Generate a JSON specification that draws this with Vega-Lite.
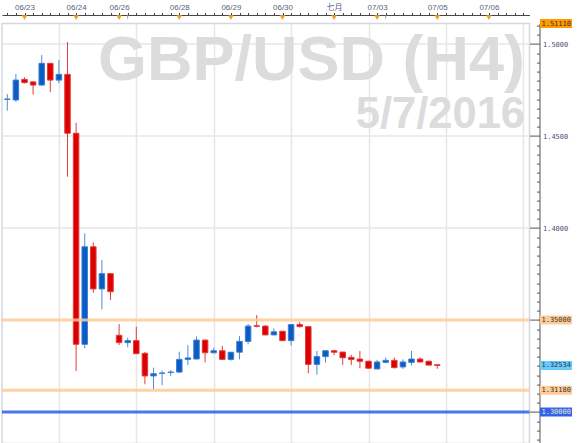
{
  "$schema": "https://vega.github.io/schema/vega-lite/v6.json",
  "width": 527.5,
  "height": 420,
  "autosize": "none",
  "padding": {"left": 2, "top": 23.6, "right": 50.5, "bottom": 0},
  "background": "white",
  "config": {"view": {"stroke": "#d3d7de", "strokeWidth": 1.5}},
  "datasets": {
    "candles": [
      {"i": 1, "o": 1.4699, "h": 1.4728, "l": 1.4638, "c": 1.4701},
      {"i": 2, "o": 1.4696, "h": 1.4837, "l": 1.4686, "c": 1.4804},
      {"i": 3, "o": 1.4808, "h": 1.4819, "l": 1.4786, "c": 1.4790},
      {"i": 4, "o": 1.4794, "h": 1.4799, "l": 1.4725, "c": 1.4777},
      {"i": 5, "o": 1.4777, "h": 1.4940, "l": 1.4773, "c": 1.4895},
      {"i": 6, "o": 1.4895, "h": 1.4897, "l": 1.4738, "c": 1.4804},
      {"i": 7, "o": 1.4804, "h": 1.4913, "l": 1.4786, "c": 1.4835},
      {"i": 8, "o": 1.4835, "h": 1.5011, "l": 1.4279, "c": 1.4515},
      {"i": 9, "o": 1.4515, "h": 1.4572, "l": 1.3223, "c": 1.3368},
      {"i": 10, "o": 1.3368, "h": 1.3971, "l": 1.3346, "c": 1.3898},
      {"i": 11, "o": 1.3898, "h": 1.3922, "l": 1.3648, "c": 1.3669},
      {"i": 12, "o": 1.3669, "h": 1.3826, "l": 1.3558, "c": 1.3752},
      {"i": 13, "o": 1.3752, "h": 1.3754, "l": 1.3609, "c": 1.3654},
      {"i": 14, "o": 1.3417, "h": 1.3478, "l": 1.3364, "c": 1.3377},
      {"i": 15, "o": 1.3377, "h": 1.3404, "l": 1.3352, "c": 1.3388},
      {"i": 16, "o": 1.3388, "h": 1.3464, "l": 1.3316, "c": 1.3317},
      {"i": 17, "o": 1.3319, "h": 1.3326, "l": 1.3151, "c": 1.3196},
      {"i": 18, "o": 1.3196, "h": 1.3241, "l": 1.3118, "c": 1.3208},
      {"i": 19, "o": 1.3210, "h": 1.3225, "l": 1.3145, "c": 1.3212},
      {"i": 20, "o": 1.3215, "h": 1.3228, "l": 1.3196, "c": 1.3217},
      {"i": 21, "o": 1.3217, "h": 1.3328, "l": 1.3214, "c": 1.3286},
      {"i": 22, "o": 1.3286, "h": 1.3363, "l": 1.3255, "c": 1.3294},
      {"i": 23, "o": 1.3288, "h": 1.3411, "l": 1.3287, "c": 1.3391},
      {"i": 24, "o": 1.3391, "h": 1.3393, "l": 1.3270, "c": 1.3322},
      {"i": 25, "o": 1.3322, "h": 1.3350, "l": 1.3319, "c": 1.3333},
      {"i": 26, "o": 1.3333, "h": 1.3360, "l": 1.3285, "c": 1.3286},
      {"i": 27, "o": 1.3286, "h": 1.3326, "l": 1.3279, "c": 1.3325},
      {"i": 28, "o": 1.3325, "h": 1.3413, "l": 1.3286, "c": 1.3384},
      {"i": 29, "o": 1.3384, "h": 1.3478, "l": 1.3368, "c": 1.3467},
      {"i": 30, "o": 1.3469, "h": 1.3527, "l": 1.3460, "c": 1.3466},
      {"i": 31, "o": 1.3467, "h": 1.3473, "l": 1.3418, "c": 1.3419},
      {"i": 32, "o": 1.3419, "h": 1.3455, "l": 1.3418, "c": 1.3436},
      {"i": 33, "o": 1.3439, "h": 1.3440, "l": 1.3387, "c": 1.3388},
      {"i": 34, "o": 1.3388, "h": 1.3478, "l": 1.3360, "c": 1.3475},
      {"i": 35, "o": 1.3475, "h": 1.3489, "l": 1.3460, "c": 1.3464},
      {"i": 36, "o": 1.3464, "h": 1.3465, "l": 1.3210, "c": 1.3259},
      {"i": 37, "o": 1.3259, "h": 1.3332, "l": 1.3203, "c": 1.3301},
      {"i": 38, "o": 1.3301, "h": 1.3337, "l": 1.3268, "c": 1.3333},
      {"i": 39, "o": 1.3333, "h": 1.3337, "l": 1.3310, "c": 1.3325},
      {"i": 40, "o": 1.3326, "h": 1.3327, "l": 1.3255, "c": 1.3295},
      {"i": 41, "o": 1.3297, "h": 1.3311, "l": 1.3255, "c": 1.3286},
      {"i": 42, "o": 1.3288, "h": 1.3332, "l": 1.3238, "c": 1.3276},
      {"i": 43, "o": 1.3276, "h": 1.3279, "l": 1.3237, "c": 1.3238},
      {"i": 44, "o": 1.3234, "h": 1.3283, "l": 1.3233, "c": 1.3272},
      {"i": 45, "o": 1.3270, "h": 1.3297, "l": 1.3265, "c": 1.3281},
      {"i": 46, "o": 1.3281, "h": 1.3297, "l": 1.3237, "c": 1.3241},
      {"i": 47, "o": 1.3245, "h": 1.3286, "l": 1.3234, "c": 1.3272},
      {"i": 48, "o": 1.3270, "h": 1.3332, "l": 1.3252, "c": 1.3288},
      {"i": 49, "o": 1.3288, "h": 1.3297, "l": 1.3270, "c": 1.3272},
      {"i": 50, "o": 1.3276, "h": 1.3279, "l": 1.3255, "c": 1.3255},
      {"i": 51, "o": 1.3257, "h": 1.3258, "l": 1.3235, "c": 1.32534}
    ],
    "levels": [
      {"p": 1.5111, "lab": "1.51110", "kind": "high"},
      {"p": 1.35, "lab": "1.35000", "kind": "res"},
      {"p": 1.32534, "lab": "1.32534", "kind": "last"},
      {"p": 1.3118, "lab": "1.31180", "kind": "sup"},
      {"p": 1.30, "lab": "1.30000", "kind": "key"}
    ],
    "marks": [
      {"i": 3, "kind": "day"}, {"i": 9, "kind": "day"}, {"i": 14, "kind": "day"},
      {"i": 15, "kind": "week"}, {"i": 21, "kind": "day"}, {"i": 27, "kind": "day"},
      {"i": 33, "kind": "day"}, {"i": 39, "kind": "day"}, {"i": 44, "kind": "day"},
      {"i": 45, "kind": "week"}, {"i": 51, "kind": "day"}, {"i": 57, "kind": "day"}
    ]
  },
  "layer": [
    {
      "data": {"name": "candles"},
      "mark": {"type": "rule", "strokeWidth": 1},
      "encoding": {
        "x": {
          "field": "i", "type": "quantitative",
          "scale": {"domain": [0.3837, 61.72], "nice": false, "zero": false, "padding": 0},
          "axis": {
            "orient": "top", "offset": 8.6, "title": null, "tickCount": 500,
            "values": [1,2,3,4,5,6,7,8,9,10,11,12,13,14,15,16,17,18,19,20,21,22,23,24,25,26,27,28,29,30,31,32,33,34,35,36,37,38,39,40,41,42,43,44,45,46,47,48,49,50,51,52,53,54,55,56,57,58,59,60,61],
            "grid": true, "gridColor": "#e6e6e6", "gridWidth": 1.5,
            "gridOpacity": {"condition": {"test": "(datum.value - 7) % 9 == 0", "value": 1}, "value": 0},
            "tickSize": 2.5, "tickColor": "#444", "domainColor": "#444",
            "labelExpr": "datum.value==3?'06/23':datum.value==9?'06/24':datum.value==14?'06/26':datum.value==21?'06/28':datum.value==27?'06/29':datum.value==33?'06/30':datum.value==39?'七月':datum.value==44?'07/03':datum.value==51?'07/05':datum.value==57?'07/06':''",
            "labelFont": "Liberation Sans, Noto Sans CJK SC", "labelFontSize": 8, "labelColor": "#5a6080",
            "labelPadding": 1, "labelOverlap": false, "labelFlush": false, "labelBound": false
          }
        },
        "y": {
          "field": "l", "type": "quantitative",
          "scale": {"domain": [1.28284, 1.5111], "nice": false, "zero": false, "padding": 0},
          "axis": {
            "orient": "right", "offset": 10, "title": null, "tickCount": 500,
            "values": [1.285,1.29,1.295,1.3,1.305,1.31,1.315,1.32,1.325,1.33,1.335,1.34,1.345,1.35,1.355,1.36,1.365,1.37,1.375,1.38,1.385,1.39,1.395,1.4,1.405,1.41,1.415,1.42,1.425,1.43,1.435,1.44,1.445,1.45,1.455,1.46,1.465,1.47,1.475,1.48,1.485,1.49,1.495,1.5,1.505,1.51],
            "grid": true, "gridColor": "#e6e6e6", "gridWidth": 1.5,
            "gridOpacity": {"condition": {"test": "abs(datum.value*20 - round(datum.value*20)) < 0.001 && datum.value > 1.39", "value": 1}, "value": 0},
            "tickSize": {"condition": {"test": "abs(datum.value*20 - round(datum.value*20)) < 0.001", "value": -10}, "value": -3},
            "tickColor": "#555", "domainColor": "#555",
            "labelExpr": "abs(datum.value*20 - round(datum.value*20)) < 0.001 && datum.value > 1.39 ? format(datum.value, '.4f') : ''",
            "labelFont": "DejaVu Sans Mono", "labelFontSize": 7, "labelColor": "#4a4e70",
            "labelPadding": 13, "labelOverlap": false, "labelFlush": false, "labelBound": false
          }
        },
        "y2": {"field": "h"},
        "color": {"condition": {"test": "datum.c >= datum.o", "value": "#4d8fd8"}, "value": "#e53a3a"}
      }
    },
    {
      "data": {"values": [{}]},
      "mark": {"type": "text", "text": "GBP/USD (H4)", "align": "right", "baseline": "alphabetic", "font": "Liberation Sans", "fontWeight": "bold", "fontSize": 63, "color": "#dcdcdc"},
      "encoding": {
        "x": {"datum": 61.2, "type": "quantitative"},
        "y": {"datum": 1.48043, "type": "quantitative"}
      }
    },
    {
      "data": {"values": [{}]},
      "mark": {"type": "text", "text": "5/7/2016", "align": "right", "baseline": "alphabetic", "font": "Liberation Sans", "fontWeight": "bold", "fontSize": 43.5, "color": "#dcdcdc"},
      "encoding": {
        "x": {"datum": 61.2, "type": "quantitative"},
        "y": {"datum": 1.45435, "type": "quantitative"}
      }
    },
    {
      "data": {"name": "candles"},
      "mark": {"type": "bar", "width": 5.5, "strokeWidth": 1, "opacity": 1},
      "encoding": {
        "x": {"field": "i", "type": "quantitative"},
        "y": {"field": "o", "type": "quantitative"},
        "y2": {"field": "c"},
        "color": {"condition": {"test": "datum.c >= datum.o", "value": "#0a5cc4"}, "value": "#dd0000"},
        "stroke": {"condition": {"test": "datum.c >= datum.o", "value": "#3a7fd0"}, "value": "#e43a3a"}
      }
    },
    {
      "data": {"name": "levels"},
      "transform": [{"filter": "datum.kind != 'high' && datum.kind != 'last'"}],
      "mark": {"type": "rule", "strokeWidth": 3, "opacity": 0.85},
      "encoding": {
        "y": {"field": "p", "type": "quantitative"},
        "color": {"condition": {"test": "datum.kind == 'key'", "value": "#2a5cf0"}, "value": "#ffc994"}
      }
    },
    {
      "data": {"name": "levels"},
      "mark": {"type": "tick", "orient": "horizontal", "thickness": 9, "size": 32, "xOffset": 26.5, "opacity": 1},
      "encoding": {
        "x": {"value": "width"},
        "y": {"field": "p", "type": "quantitative"},
        "color": {"field": "kind", "type": "nominal", "scale": {"domain": ["high", "res", "last", "sup", "key"], "range": ["#ff9a00", "#ffcc99", "#66ccff", "#ffcc99", "#3262f0"]}, "legend": null}
      }
    },
    {
      "data": {"name": "levels"},
      "mark": {"type": "text", "align": "left", "baseline": "middle", "dx": 12, "font": "DejaVu Sans Mono", "fontSize": 7},
      "encoding": {
        "x": {"value": "width"},
        "y": {"field": "p", "type": "quantitative"},
        "text": {"field": "lab"},
        "color": {"condition": {"test": "datum.kind == 'key'", "value": "#e8f0b0"}, "value": "#333333"}
      }
    },
    {
      "data": {"name": "marks"},
      "mark": {"type": "point", "filled": true, "opacity": 1, "size": 30, "yOffset": -6},
      "encoding": {
        "x": {"field": "i", "type": "quantitative"},
        "y": {"datum": 1.5111, "type": "quantitative"},
        "shape": {"field": "kind", "type": "nominal", "scale": {"domain": ["day", "week"], "range": ["triangle-down", "M-0.25,-1L0.25,-1L0,1Z"]}, "legend": null},
        "color": {"field": "kind", "type": "nominal", "scale": {"domain": ["day", "week"], "range": ["#f5a020", "#888888"]}, "legend": null}
      }
    }
  ],
  "resolve": {"scale": {"color": "independent", "shape": "independent"}}
}
